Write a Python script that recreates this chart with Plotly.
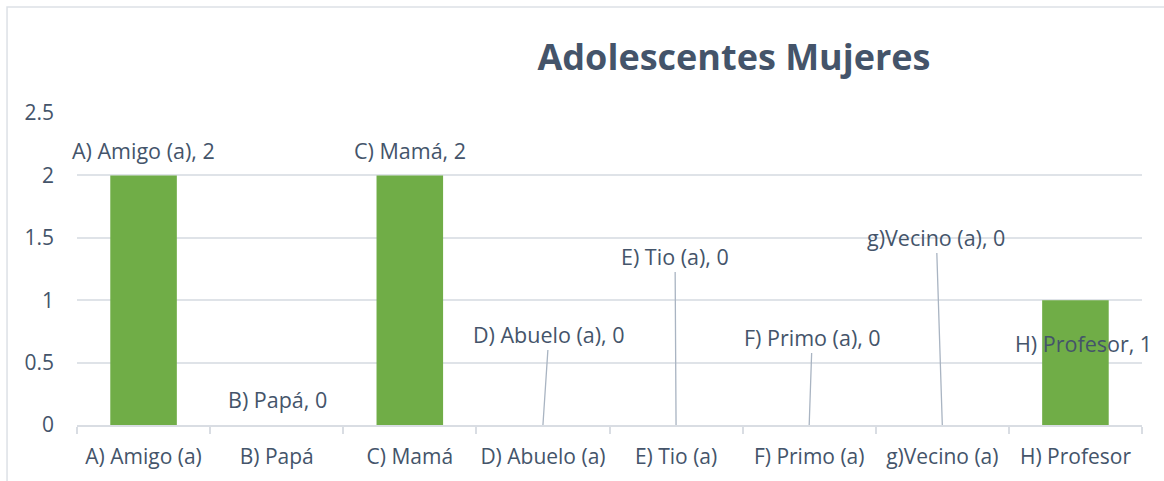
import plotly.graph_objects as go

categories = ["A) Amigo (a)", "B) Papá", "C) Mamá", "D) Abuelo (a)",
              "E) Tio (a)", "F) Primo (a)", "g)Vecino (a)", "H) Profesor"]
values = [2, 0, 2, 0, 0, 0, 0, 1]
title_text = "Adolescentes Mujeres"
y_ticks = [0, 0.5, 1, 1.5, 2, 2.5]

# label placement (pixel offsets): (dx, dy, leader line?)
label_offsets = [(0, 25, False), (1, 26, False), (0, 25, False), (6, -91, True),
                 (-1, -169, True), (3, -88, True), (-6, -188, True), (8, -43, False)]

TXT = "#44546A"
FONT = "Open Sans"
FS_TICK = 21
FS_LABEL = 21.5

fig = go.Figure()
fig.add_trace(go.Bar(
    x=categories, y=values, width=0.5,
    marker=dict(color="#70AD47", line=dict(width=0)),
    hoverinfo="skip",
))

annotations = []
for cat, val, (dx, dy, leader) in zip(categories, values, label_offsets):
    txt = f"{cat}, {val}"
    if leader:
        annotations.append(dict(
            x=cat, y=val, xref="x", yref="y", text=txt,
            showarrow=True, arrowhead=0, arrowwidth=1.3, arrowcolor="#A9B4C2",
            ax=dx, ay=dy, axref="pixel", ayref="pixel",
            font=dict(family=FONT, size=FS_LABEL, color=TXT), standoff=0,
        ))
    else:
        annotations.append(dict(
            x=cat, y=val, xref="x", yref="y", text=txt, showarrow=False,
            xshift=dx, yshift=dy,
            font=dict(family=FONT, size=FS_LABEL, color=TXT),
        ))

fig.update_layout(
    width=1164, height=481,
    margin=dict(l=77, r=22, t=113, b=56),
    paper_bgcolor="white", plot_bgcolor="white",
    showlegend=False,
    bargap=0.5,
    title=dict(text=f"<b>{title_text}</b>", x=0.6306, xref="container", xanchor="center",
               y=1 - 57 / 481, yref="container", yanchor="middle",
               font=dict(family=FONT, size=36, color=TXT)),
    annotations=annotations,
    shapes=[dict(type="rect", xref="paper", yref="paper",
                 x0=-0.0657, x1=1.2, y0=-0.3, y1=(425 - 7) / 312,
                 line=dict(color="#DDE1E6", width=1.5), fillcolor="rgba(0,0,0,0)",
                 layer="below")],
    font=dict(family=FONT, size=FS_TICK, color=TXT),
)
fig.update_xaxes(
    range=[-0.5, len(categories) - 0.5],
    showline=True, linecolor="#D9DDE3", linewidth=1.5,
    ticks="outside", ticklen=7, tickcolor="#D9DDE3", tickwidth=1.5,
    tickson="boundaries", showgrid=False, ticklabelstandoff=12,
    tickangle=0, automargin=False,
    tickfont=dict(family=FONT, size=FS_TICK, color=TXT),
)
fig.update_yaxes(
    range=[0, 2.5], tickvals=y_ticks, ticktext=[f"{v:g}" for v in y_ticks],
    showgrid=True, gridcolor="#DFE3E8", gridwidth=1.5,
    zeroline=False, showline=False, ticks="", ticklabelstandoff=22,
    automargin=False,
    tickfont=dict(family=FONT, size=FS_TICK, color=TXT),
)

fig.write_html("out.html", config={"displayModeBar": False},
               post_script="document.body.style.margin='0';document.body.style.overflow='hidden';")
